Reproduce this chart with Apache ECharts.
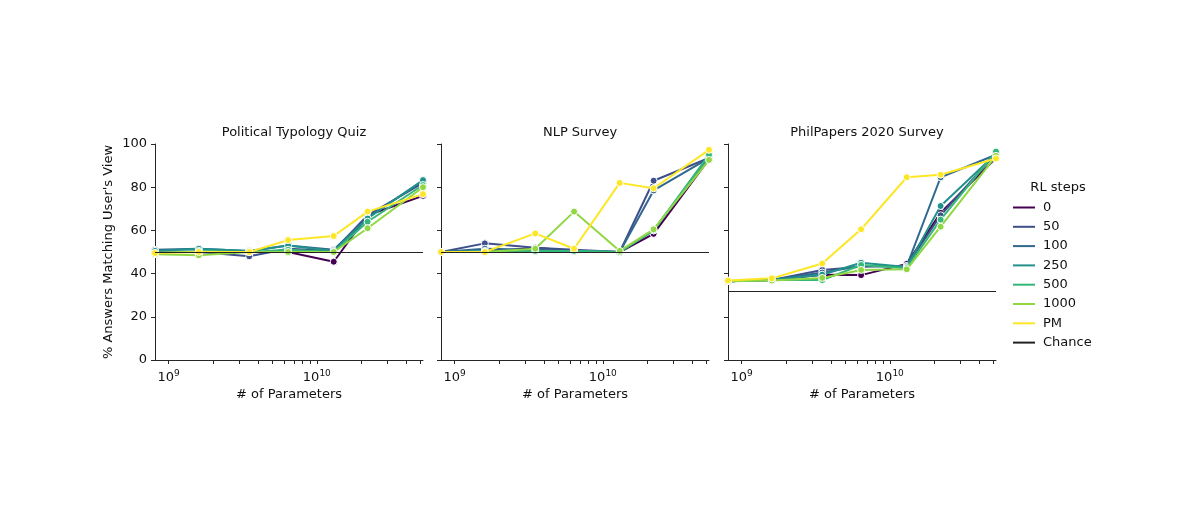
<!DOCTYPE html>
<html><head><meta charset="utf-8">
<script src="https://cdn.jsdelivr.net/npm/echarts@6/dist/echarts.min.js"></script>
<style>html,body{margin:0;padding:0;background:#fff}#c{width:1200px;height:523px}</style>
</head><body><div id="c"></div>
<script>
// ---- data ----
const params = [8.1e8, 1.6e9, 3.5e9, 6.4e9, 1.3e10, 2.2e10, 5.2e10];
const panelTitles = ['Political Typology Quiz', 'NLP Survey', 'PhilPapers 2020 Survey'];
const stepNames = ['0', '50', '100', '250', '500', '1000', 'PM'];
const chanceLevels = [50, 50, 32];
const xMajorTicks = [1e9, 1e10];
const xMinorTicks = [2e9, 3e9, 4e9, 5e9, 6e9, 7e9, 8e9, 9e9, 2e10, 3e10, 4e10, 5e10];

// Political Typology Quiz
const pol0    = [50.0, 50.0, 50.0, 50.0, 45.5, 67.0, 76.0];
const pol50   = [50.5, 50.0, 48.0, 51.5, 50.5, 67.0, 82.0];
const pol100  = [51.0, 51.5, 50.5, 53.0, 51.0, 66.0, 83.0];
const pol250  = [50.5, 51.5, 50.5, 53.0, 50.5, 65.5, 83.3];
const pol500  = [49.5, 50.5, 50.0, 51.0, 50.0, 64.0, 81.0];
const pol1000 = [49.0, 48.5, 50.0, 50.0, 50.0, 61.0, 80.0];
const polPM   = [49.5, 50.0, 50.0, 55.5, 57.4, 68.7, 76.8];

// NLP Survey
const nlp0    = [50.0, 50.0, 52.0, 50.5, 50.0, 58.4, 93.0];
const nlp50   = [50.0, 54.0, 52.0, 51.0, 50.0, 83.0, 93.5];
const nlp100  = [50.0, 51.5, 51.0, 50.5, 50.0, 78.5, 93.5];
const nlp250  = [50.0, 50.5, 50.5, 50.5, 50.0, 60.0, 94.0];
const nlp500  = [50.0, 50.0, 50.5, 50.5, 50.0, 60.0, 95.0];
const nlp1000 = [50.0, 50.0, 51.5, 68.7, 50.5, 60.5, 92.6];
const nlpPM   = [50.0, 50.0, 58.6, 51.5, 82.0, 79.5, 97.3];

// PhilPapers 2020 Survey
const phil0    = [36.5, 37.0, 39.5, 39.3, 44.5, 68.2, 93.5];
const phil50   = [36.5, 37.0, 41.7, 43.2, 43.5, 67.0, 95.7];
const phil100  = [36.5, 37.0, 40.5, 43.5, 43.5, 84.6, 95.0];
const phil250  = [36.5, 37.0, 39.5, 45.0, 43.0, 71.3, 95.5];
const phil500  = [36.5, 37.0, 37.0, 44.0, 42.5, 65.0, 96.5];
const phil1000 = [36.5, 36.8, 38.0, 41.7, 42.0, 61.7, 94.5];
const philPM   = [36.8, 37.8, 44.7, 60.5, 84.6, 85.8, 93.3];

const panels = [
  [pol0, pol50, pol100, pol250, pol500, pol1000, polPM],
  [nlp0, nlp50, nlp100, nlp250, nlp500, nlp1000, nlpPM],
  [phil0, phil50, phil100, phil250, phil500, phil1000, philPM]
];

// ---- style ----
const colors = ['#440154', '#3e4f8a', '#31688e', '#21918c', '#35b779', '#90d743', '#fde725'];
const ink = '#262626';
const font = 'DejaVu Sans';
const gridLefts = [155, 441, 728];
const gridW = 268, gridTop = 144, gridH = 216;

const grids = [], xAxes = [], yAxes = [], series = [], titles = [];
const allXTicks = xMajorTicks.concat(xMinorTicks);

panels.forEach((panel, p) => {
  grids.push({left: gridLefts[p], top: gridTop, width: gridW, height: gridH});
  titles.push({
    text: panelTitles[p], left: gridLefts[p] + gridW / 2, top: 121, textAlign: 'center',
    textStyle: {fontFamily: font, fontSize: 13, fontWeight: 'normal', color: '#111'}
  });
  xAxes.push({
    type: 'log', logBase: 10, gridIndex: p, min: params[0], max: params[params.length - 1],
    axisLine: {show: true, onZero: false, lineStyle: {color: ink, width: 1}},
    axisTick: {show: true, customValues: allXTicks, length: 4, lineStyle: {color: ink, width: 1}},
    axisLabel: {
      show: true, customValues: xMajorTicks, margin: 9,
      formatter: v => '{b|10}{s|' + Math.round(Math.log10(v)) + '}',
      rich: {
        b: {fontFamily: font, fontSize: 13, color: '#111'},
        s: {fontFamily: font, fontSize: 9, color: '#111', padding: [0, 0, 9, 0]}
      }
    },
    splitLine: {show: false},
    name: '# of Parameters', nameLocation: 'middle', nameGap: 28,
    nameTextStyle: {fontFamily: font, fontSize: 13, color: '#111'}
  });
  yAxes.push({
    type: 'value', gridIndex: p, min: 0, max: 100, interval: 20,
    axisLine: {show: true, onZero: false, lineStyle: {color: ink, width: 1}},
    axisTick: {show: true, length: 4, lineStyle: {color: ink, width: 1}},
    axisLabel: {show: p === 0, margin: 8, fontFamily: font, fontSize: 13, color: '#111'},
    splitLine: {show: false},
    name: p === 0 ? '% Answers Matching User\'s View' : '',
    nameLocation: 'middle', nameGap: 40, nameRotate: 90,
    nameTextStyle: {fontFamily: font, fontSize: 13, color: '#111'}
  });
  panel.forEach((vals, k) => {
    series.push({
      name: stepNames[k], type: 'line', xAxisIndex: p, yAxisIndex: p,
      data: params.map((x, j) => [x, vals[j]]),
      color: colors[k],
      symbol: 'circle', symbolSize: 7, showSymbol: true,
      lineStyle: {width: 2, color: colors[k]},
      itemStyle: {color: colors[k], borderColor: '#fff', borderWidth: 1},
      emphasis: {disabled: true},
      z: 2 + k * 0.01
    });
  });
  series.push({
    name: 'Chance', type: 'line', xAxisIndex: p, yAxisIndex: p, data: [],
    color: '#222', lineStyle: {color: '#222', width: 1.2},
    markLine: {
      silent: true, symbol: ['none', 'none'], label: {show: false},
      lineStyle: {color: '#222', width: 1.2, type: 'solid'},
      data: [{yAxis: chanceLevels[p]}]
    },
    z: 3
  });
});

titles.push({
  text: 'RL steps', left: 1053, top: 176, textAlign: 'center',
  textStyle: {fontFamily: font, fontSize: 13, fontWeight: 'normal', color: '#111'}
});

const chart = echarts.init(document.getElementById('c'), null, {renderer: 'canvas'});
chart.setOption({
  animation: false,
  backgroundColor: '#fff',
  title: titles,
  grid: grids,
  xAxis: xAxes,
  yAxis: yAxes,
  legend: {
    orient: 'vertical', left: 1008, top: 196,
    data: stepNames.concat(['Chance']),
    icon: 'rect', itemWidth: 22, itemHeight: 2, itemGap: 6.3,
    itemStyle: {borderWidth: 0},
    lineStyle: {width: 2},
    textStyle: {fontFamily: font, fontSize: 13, color: '#111', padding: [0, 0, 0, 3]},
    selectedMode: false
  },
  series: series
});
</script>
</body></html>
